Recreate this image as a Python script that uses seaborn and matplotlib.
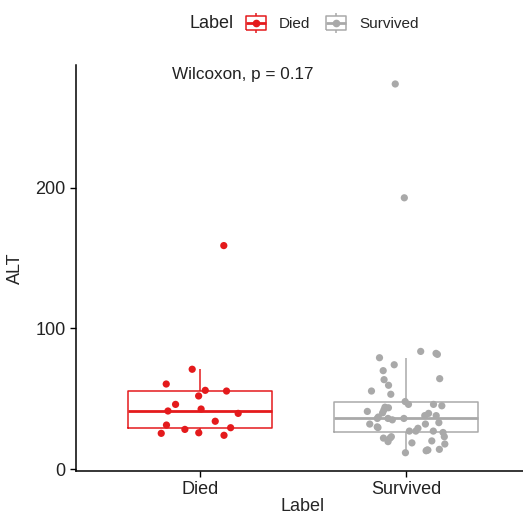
import numpy as np
import pandas as pd
import matplotlib
matplotlib.use("Agg")
import matplotlib.pyplot as plt
import seaborn as sns
from matplotlib.lines import Line2D
from matplotlib.legend_handler import HandlerTuple

# ---- data ----
categories = ["Died", "Survived"]
died_alt = [24, 25.4, 25.8, 28.2, 29.4, 31.3, 34, 39.6, 41.3, 42.7, 46, 52,
            55.5, 56, 60.5, 71, 159]
survived_alt = [11.6, 13, 13.5, 13.5, 14, 17.8, 18.6, 19.5, 20, 22, 22, 23, 23,
                26, 27, 27, 27, 29, 29.5, 30, 32, 32, 33,
                35, 36, 36, 36, 37, 38, 38, 39.6, 40, 41, 42, 43.6, 44, 45, 46, 46, 48,
                53.2, 55.5, 59.6, 63.6, 64.3, 70, 74.2, 79.2, 81.6, 82.3, 83.7, 193, 274]
y_ticks = [0, 100, 200]
colors = {"Died": "#E41A1C", "Survived": "#A9A9A9"}
stat_text = "Wilcoxon, p = 0.17"

df = pd.DataFrame({
    "Label": ["Died"] * len(died_alt) + ["Survived"] * len(survived_alt),
    "ALT": died_alt + survived_alt,
})

sns.set_style("white")
plt.rcParams["font.family"] = ["Liberation Sans", "DejaVu Sans"]

W, H = 523, 515
fig = plt.figure(figsize=(W / 100, H / 100), dpi=100)
ax = fig.add_axes([76 / W, (H - 471) / H, (530 - 76) / W, (471 - 65) / H])

sns.boxplot(data=df, x="Label", y="ALT", hue="Label", order=categories,
            hue_order=categories, palette=colors, fill=False, width=0.7,
            linewidth=1.1, showfliers=False, showcaps=False, whis=1.5,
            legend=False, ax=ax, medianprops={"linewidth": 2.0}, dodge=False)
np.random.seed(265948)
sns.stripplot(data=df, x="Label", y="ALT", hue="Label", order=categories,
              hue_order=categories, palette=colors, jitter=0.2, size=5.2,
              legend=False, ax=ax, zorder=3, linewidth=0)

ax.set_xlim(-0.6, 1.6)
ax.set_ylim(-1.4, 287.5)
ax.set_yticks(y_ticks)
ax.set_yticklabels([str(t) for t in y_ticks])
for s in ["top", "right"]:
    ax.spines[s].set_visible(False)
for s in ["left", "bottom"]:
    ax.spines[s].set_color("black")
    ax.spines[s].set_linewidth(1.1)
ax.tick_params(axis="both", which="both", direction="out", length=4, width=1.0,
               color="black", labelsize=13, labelcolor="#222222", left=True, bottom=True)
ax.set_xlabel("Label", fontsize=13, labelpad=0)
ax.set_ylabel("ALT", fontsize=13, labelpad=8)

ax.text(0.21, 280.4, stat_text, ha="center", va="center", fontsize=12.3, color="#222222")

# legend
rect = [(-1.6, -1), (1.6, -1), (1.6, 1), (-1.6, 1), (-1.6, -1)]
def key(c):
    return (Line2D([], [], color=c, marker="|", markersize=14, linestyle="none", mew=1.1),
            Line2D([], [], color=c, marker=rect, markersize=15, mfc="white", mec=c,
                   linestyle="none", mew=1.1),
            Line2D([], [], color=c, marker="_", markersize=14, linestyle="none", mew=2),
            Line2D([], [], color=c, marker="o", markersize=4.5, linestyle="none"))

handles = [key(colors[c]) for c in categories]
fig.text(212 / W, 1 - 24 / H, "Label", ha="center", va="center", fontsize=13, color="#222222")
leg = fig.legend(handles, categories,
                 handler_map={tuple: HandlerTuple(ndivide=1, pad=0)},
                 loc="center left", bbox_to_anchor=(244 / W, 1 - 24 / H), ncol=2,
                 frameon=False, fontsize=11, handlelength=1.6, handletextpad=0.7,
                 columnspacing=0.9, borderpad=0, borderaxespad=0)

fig.savefig("out.png", dpi=100)
